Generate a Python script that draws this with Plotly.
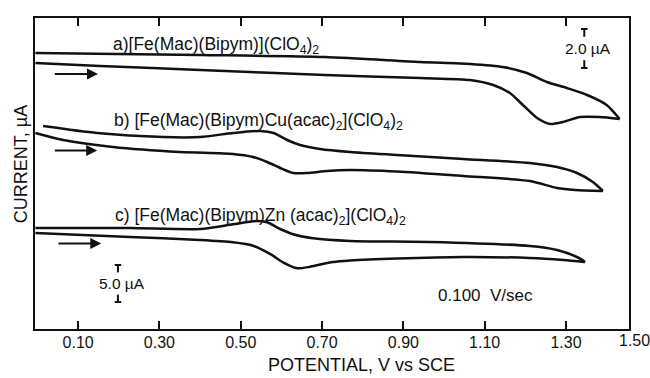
import plotly.graph_objects as go

# Cyclic voltammograms, potential in V vs SCE; currents are offset traces
# in arbitrary stacked units (each curve carries its own µA scale bar).
a_fwd_v = [-0.005, 0.154, 0.400, 0.707, 0.941, 1.064, 1.121, 1.162, 1.194, 1.229, 1.261, 1.293, 1.334, 1.383, 1.432]
a_fwd_i = [266, 263, 259, 254, 251, 249, 244, 236, 224, 211, 205, 207, 212, 212, 210]
a_rev_v = [1.432, 1.400, 1.352, 1.302, 1.253, 1.204, 1.145, 1.064, 0.941, 0.707, 0.400, -0.005]
a_rev_i = [210, 224, 234, 241, 247, 256, 262, 265, 267, 272, 274, 276]

b_fwd_v = [-0.005, 0.063, 0.186, 0.351, 0.481, 0.530, 0.565, 0.597, 0.629, 0.663, 0.712, 0.769, 0.884, 1.047, 1.211, 1.278, 1.322, 1.391]
b_fwd_i = [196, 189, 182, 177, 175, 172, 167, 161, 156, 156, 158, 159, 157.5, 153, 148, 141, 139, 138]
b_rev_v = [1.391, 1.366, 1.327, 1.278, 1.211, 1.047, 0.884, 0.769, 0.695, 0.646, 0.614, 0.581, 0.548, 0.481, 0.400, 0.309, 0.147, 0.014]
b_rev_i = [138, 147, 156, 162, 166, 170, 174, 177, 180, 184, 189, 196, 198, 196, 192, 192, 196, 203]

c_fwd_v = [-0.005, 0.228, 0.400, 0.481, 0.530, 0.574, 0.604, 0.639, 0.671, 0.727, 0.769, 0.884, 1.047, 1.211, 1.293, 1.347]
c_fwd_i = [96, 92, 89, 86.7, 83.3, 74.7, 66.7, 60.7, 62.3, 67, 68.5, 70.5, 72, 71, 69, 67]
c_rev_v = [1.347, 1.327, 1.278, 1.211, 0.966, 0.769, 0.678, 0.629, 0.597, 0.565, 0.540, 0.481, 0.400, 0.228, -0.005]
c_rev_i = [67, 72, 79, 83, 87, 88, 90.7, 94.7, 100, 106.7, 108, 104.7, 100, 101, 101]

# scan-direction arrows: (start V, end V, current level)
scan_arrows = [(0.039, 0.149, 255), (0.039, 0.147, 178.5), (0.048, 0.157, 85.5)]

curve_labels = [
    "a)[Fe(Mac)(Bipym)](ClO<sub>4</sub>)<sub>2</sub>",
    "b) [Fe(Mac)(Bipym)Cu(acac)<sub>2</sub>](ClO<sub>4</sub>)<sub>2</sub>",
    "c) [Fe(Mac)(Bipym)Zn (acac)<sub>2</sub>](ClO<sub>4</sub>)<sub>2</sub>",
]
label_pos = [(0.180, 284), (0.183, 208), (0.186, 113)]

tick_vals = [0.10, 0.30, 0.50, 0.70, 0.90, 1.10, 1.30]
tick_text = ["0.10", "0.30", "0.50", "0.70", "0.90", "1.10", "1.30"]
last_tick_text = "1.50"

# scale bars: (V position, top, bottom, label)
scale_bars = [(1.345, 300, 261, "2.0 µA"), (0.198, 64, 27, "5.0 µA")]

FONT = "Liberation Sans"
INK = "#111111"

fig = go.Figure()
for v, i in [(a_fwd_v, a_fwd_i), (a_rev_v, a_rev_i),
             (b_fwd_v, b_fwd_i), (b_rev_v, b_rev_i),
             (c_fwd_v, c_fwd_i), (c_rev_v, c_rev_i)]:
    fig.add_trace(go.Scatter(x=v, y=i, mode="lines",
                             line=dict(color=INK, width=2.5, shape="spline", smoothing=0.7),
                             showlegend=False, hoverinfo="skip"))

annotations = []
for x0, x1, yv in scan_arrows:
    annotations.append(dict(x=x1, y=yv, ax=x0, ay=yv, xref="x", yref="y", axref="x", ayref="y",
                            text="", showarrow=True, arrowhead=2, arrowsize=1.1,
                            arrowwidth=2, arrowcolor=INK))

for txt, (xv, yv) in zip(curve_labels, label_pos):
    annotations.append(dict(x=xv, y=yv, xref="x", yref="y", text=txt, showarrow=False,
                            xanchor="left", yanchor="middle",
                            font=dict(family=FONT, size=17.5, color=INK)))

shapes = []
for xv, top, bot, txt in scale_bars:
    span = top - bot
    cap = 0.008
    seg = span * 0.2
    shapes += [
        dict(type="line", xref="x", yref="y", x0=xv - cap, x1=xv + cap, y0=top, y1=top,
             line=dict(color=INK, width=2)),
        dict(type="line", xref="x", yref="y", x0=xv, x1=xv, y0=top, y1=top - seg,
             line=dict(color=INK, width=2)),
        dict(type="line", xref="x", yref="y", x0=xv - cap, x1=xv + cap, y0=bot, y1=bot,
             line=dict(color=INK, width=2)),
        dict(type="line", xref="x", yref="y", x0=xv, x1=xv, y0=bot, y1=bot + seg,
             line=dict(color=INK, width=2)),
    ]
    annotations.append(dict(x=xv + 0.01, y=(top + bot) / 2, xref="x", yref="y", text=txt,
                            showarrow=False, xanchor="center", yanchor="middle",
                            font=dict(family=FONT, size=15.5, color=INK)))

annotations += [
    dict(x=1.101, y=34, xref="x", yref="y", text="0.100  V/sec", showarrow=False,
         font=dict(family=FONT, size=17, color=INK)),
    dict(x=1.0, y=0, xref="paper", yref="paper", text=last_tick_text, showarrow=False,
         xanchor="center", yanchor="top", xshift=5, yshift=-1,
         font=dict(family=FONT, size=16, color=INK)),
    dict(x=0.55, y=0, xref="paper", yref="paper", text="POTENTIAL, V vs SCE", showarrow=False,
         xanchor="center", yanchor="middle", yshift=-36,
         font=dict(family=FONT, size=18, color=INK)),
    dict(x=0, y=0.53, xref="paper", yref="paper", text="CURRENT, µA", showarrow=False,
         textangle=-90, xanchor="center", yanchor="middle", xshift=-14,
         font=dict(family=FONT, size=18, color=INK)),
]

fig.update_layout(
    width=650, height=378, autosize=False,
    margin=dict(l=35, r=21, t=18, b=49),
    paper_bgcolor="white", plot_bgcolor="white",
    font=dict(family=FONT, color=INK),
    annotations=annotations, shapes=shapes,
    xaxis=dict(range=[-0.006, 1.455], tickvals=tick_vals, ticktext=tick_text,
               ticks="inside", ticklen=8, tickwidth=2, tickcolor=INK,
               showline=True, linewidth=2, linecolor=INK, mirror="ticks",
               showgrid=False, zeroline=False, ticklabelstandoff=-2,
               tickfont=dict(family=FONT, size=16, color=INK)),
    yaxis=dict(range=[0, 311], showticklabels=False, ticks="",
               showline=True, linewidth=2, linecolor=INK, mirror=True,
               showgrid=False, zeroline=False),
)

fig.write_html("out.html")
